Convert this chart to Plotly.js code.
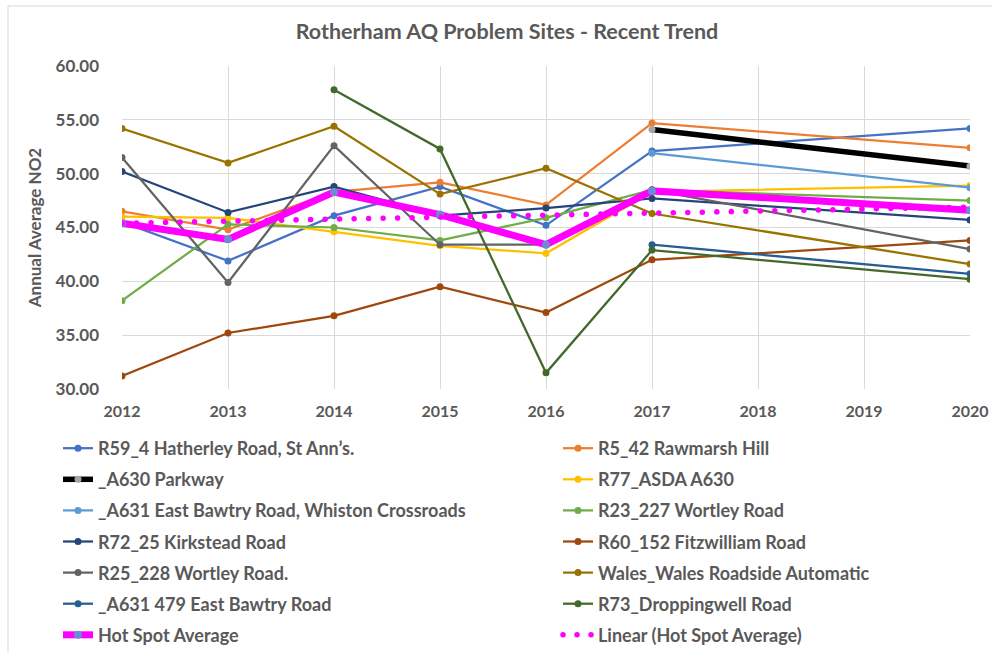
<!DOCTYPE html>
<html>
<head>
<meta charset="utf-8">
<script src="https://cdn.plot.ly/plotly-3.0.1.min.js"></script>
<style>
html,body{margin:0;padding:0;background:#fff;}
#chart{width:992px;height:653px;}
</style>
</head>
<body>
<div id="chart"></div>
<script>
const years = [2012, 2013, 2014, 2015, 2016, 2017, 2020];
const r59Hatherley   = [45.5, 41.9, 46.1, 48.8, 45.2, 52.1, 54.2];
const r5Rawmarsh     = [46.5, 44.8, 48.3, 49.2, 47.1, 54.7, 52.4];
const a630Parkway    = [null, null, null, null, null, 54.1, 50.7];
const r77Asda        = [46.0, 45.9, 44.6, 43.3, 42.6, 48.3, 48.9];
const a631Whiston    = [null, null, null, null, null, 51.9, 48.7];
const r23Wortley     = [38.2, 45.3, 45.0, 43.8, 45.9, 48.5, 47.5];
const r72Kirkstead   = [50.2, 46.4, 48.8, 46.1, 46.8, 47.7, 45.7];
const r60Fitzwilliam = [31.2, 35.2, 36.8, 39.5, 37.1, 42.0, 43.8];
const r25Wortley     = [51.5, 39.9, 52.6, 43.4, 43.4, 48.5, 43.0];
const walesRoadside  = [54.2, 51.0, 54.4, 48.1, 50.5, 46.3, 41.6];
const a631_479       = [null, null, null, null, null, 43.4, 40.7];
const r73Droppingwell= [null, null, 57.8, 52.3, 31.5, 42.9, 40.2];
const hotSpotAverage = [45.4, 43.9, 48.3, 46.2, 43.4, 48.4, 46.6];
const trendYears = [2012, 2020];
const trendValues = [45.4, 46.9];

const seriesNames = [
  "R59_4 Hatherley Road, St Ann\u2019s.",
  "R5_42 Rawmarsh Hill",
  "_A630 Parkway",
  "R77_ASDA A630",
  "_A631 East Bawtry Road, Whiston Crossroads",
  "R23_227 Wortley Road",
  "R72_25 Kirkstead Road",
  "R60_152 Fitzwilliam Road",
  "R25_228 Wortley Road.",
  "Wales_Wales Roadside Automatic",
  "_A631 479 East Bawtry Road",
  "R73_Droppingwell Road",
  "Hot Spot Average",
  "Linear (Hot Spot Average)"
];

function series(name, y, color, legend, opts) {
  opts = opts || {};
  return {
    type: 'scatter', mode: 'lines+markers', x: years, y: y, name: name,
    connectgaps: true, legend: legend, legendgroup: name,
    line: {color: opts.lineColor || color, width: opts.width || 2.25},
    marker: {color: color, size: opts.msize || 7},
    hoverinfo: 'x+y+name'
  };
}

const traces = [
  series(seriesNames[0], r59Hatherley, '#4472C4', 'legend'),
  series(seriesNames[1], r5Rawmarsh, '#ED7D31', 'legend2'),
  series(seriesNames[2], a630Parkway, '#A5A5A5', 'legend', {lineColor: '#000000', width: 5.5}),
  series(seriesNames[3], r77Asda, '#FFC000', 'legend2'),
  series(seriesNames[4], a631Whiston, '#5B9BD5', 'legend'),
  series(seriesNames[5], r23Wortley, '#70AD47', 'legend2'),
  series(seriesNames[6], r72Kirkstead, '#264478', 'legend'),
  series(seriesNames[7], r60Fitzwilliam, '#9E480E', 'legend2'),
  series(seriesNames[8], r25Wortley, '#636363', 'legend'),
  series(seriesNames[9], walesRoadside, '#997300', 'legend2'),
  series(seriesNames[10], a631_479, '#255E91', 'legend'),
  series(seriesNames[11], r73Droppingwell, '#43682B', 'legend2'),
  series(seriesNames[12], hotSpotAverage, '#698ED0', 'legend', {lineColor: '#FF00FF', width: 7, msize: 8}),
  {
    type: 'scatter', mode: 'lines', x: trendYears, y: trendValues, name: seriesNames[13],
    legend: 'legend2', legendgroup: seriesNames[13],
    line: {color: '#FF00FF', width: 5, dash: 'dot'}
  }
];

const fontFam = 'Lato, "Open Sans", sans-serif';
const grey = '#595959';
const W = 992, H = 653;
const L = 122, R = 970, T = 66, B = 389;
const px2paperX = p => (p - L) / (R - L);
const px2paperY = p => (B - p) / (B - T);

const legendCommon = {
  orientation: 'v', xref: 'paper', yref: 'container', yanchor: 'top', xanchor: 'left',
  font: {family: fontFam, size: 18, color: grey, weight: 'bold'},
  bgcolor: 'rgba(0,0,0,0)', traceorder: 'grouped', tracegroupgap: 4.7,
  itemclick: false, itemdoubleclick: false
};

const layout = {
  width: W, height: H,
  margin: {l: L, r: W - R, t: T, b: H - B},
  paper_bgcolor: '#ffffff', plot_bgcolor: '#ffffff',
  font: {family: fontFam, color: grey},
  title: {
    text: 'Rotherham AQ Problem Sites - Recent Trend',
    font: {family: fontFam, size: 21.5, color: grey, weight: 'bold'},
    xref: 'container', yref: 'container', x: 507 / W, y: 1 - 31 / H,
    xanchor: 'center', yanchor: 'middle'
  },
  xaxis: {
    range: [2012, 2020], dtick: 1, tick0: 2012, showgrid: true, gridcolor: '#D9D9D9',
    gridwidth: 1, zeroline: false, showline: false, ticks: '',
    tickfont: {family: fontFam, size: 16, color: grey, weight: 'bold'},
    ticklabelstandoff: 11, fixedrange: true, tickangle: 0
  },
  yaxis: {
    range: [30, 60], dtick: 5, tick0: 30, tickformat: '.2f', showgrid: true,
    gridcolor: '#D9D9D9', gridwidth: 1, zeroline: false, showline: false, ticks: '',
    tickfont: {family: fontFam, size: 17, color: grey, weight: 'bold'},
    ticklabelstandoff: 22, fixedrange: true,
    title: {text: 'Annual Average NO2', font: {family: fontFam, size: 17, color: grey, weight: 'bold'}, standoff: 9}
  },
  legend: Object.assign({}, legendCommon, {x: px2paperX(58), y: 1 - 430 / H}),
  legend2: Object.assign({}, legendCommon, {x: px2paperX(558), y: 1 - 430 / H}),
  shapes: [{
    type: 'rect', xref: 'paper', yref: 'paper',
    x0: px2paperX(8), x1: px2paperX(1100), y0: px2paperY(800), y1: px2paperY(6),
    line: {color: '#D9D9D9', width: 1}, fillcolor: 'rgba(0,0,0,0)', layer: 'below'
  }],
  showlegend: true
};

Plotly.newPlot('chart', traces, layout, {displayModeBar: false}).then(gd => {
  const styleDots = p => {
    p.style.strokeDasharray = '0.01px, 14.5px';
    p.style.strokeLinecap = 'round';
    p.style.strokeWidth = '5.5px';
  };
  const tr = gd.querySelectorAll('.scatterlayer .trace');
  const last = tr[tr.length - 1];
  if (last) last.querySelectorAll('path.js-line').forEach(styleDots);
  gd.querySelectorAll('.legend2 .traces').forEach(t => {
    if (t.textContent.indexOf('Linear') === 0) {
      t.querySelectorAll('.legendlines path').forEach(p => {
        styleDots(p);
        p.style.strokeDasharray = '0.01px, 14px';
      });
    }
  });
});
</script>
</body>
</html>
